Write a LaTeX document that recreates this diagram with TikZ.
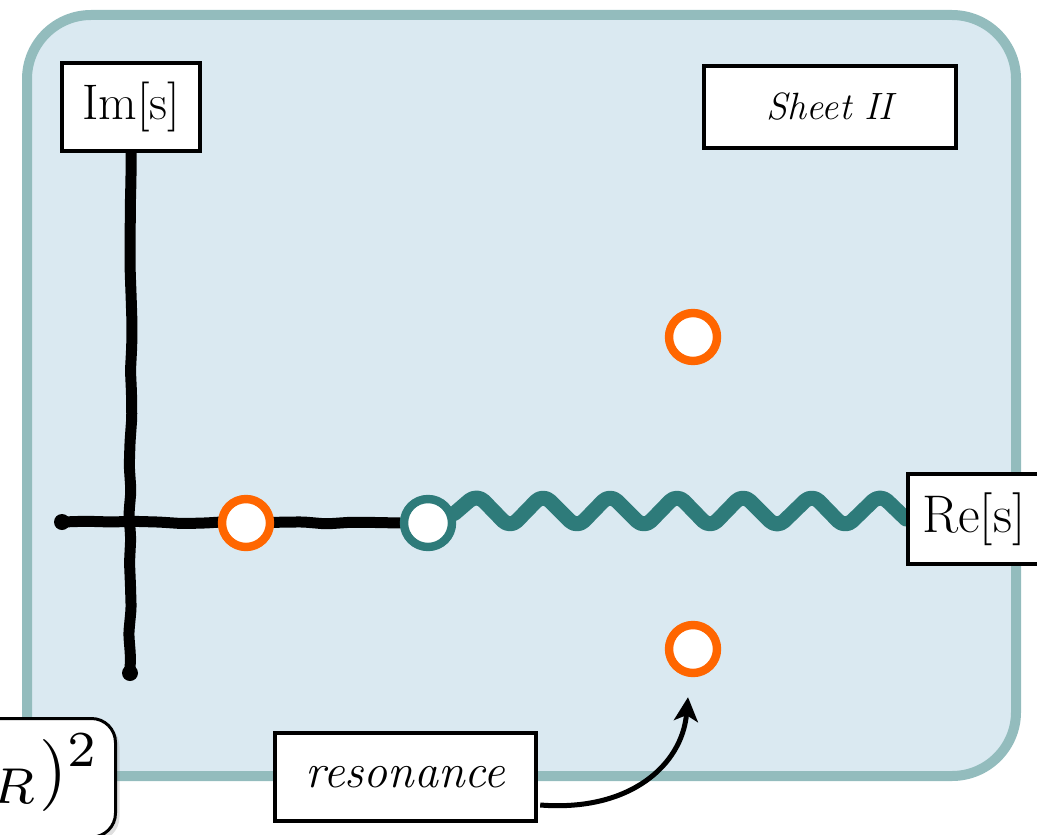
\documentclass[tikz,border=0pt]{standalone}
\usetikzlibrary{calc,arrows.meta,shadows,decorations.pathmorphing}

\definecolor{sheetfill}{RGB}{218,233,241}
\definecolor{sheetedge}{RGB}{147,188,189}
\definecolor{cutteal}{RGB}{46,123,122}
\definecolor{poleorange}{RGB}{255,102,0}

\pgfdeclarelayer{sheetlayer}
\pgfdeclarelayer{linelayer}
\pgfsetlayers{sheetlayer,linelayer,main}

\begin{document}
\begin{tikzpicture}[x=0.5pt,y=-0.5pt,
  labelbox/.style={draw, line width=2.2pt, fill=white, inner sep=0pt},
  pole/.style={circle, draw=poleorange, line width=4.2pt, fill=white,
               minimum size=24pt, inner sep=0pt},
  branchpt/.style={pole, draw=cutteal},
  axisline/.style={line width=5.5pt, line cap=round, rounded corners=2pt,
                   decorate, decoration={random steps, segment length=12pt, amplitude=0.8pt}},
  cutline/.style={cutteal, line width=7.5pt, line join=round, line cap=round,
                  rounded corners=5pt},
  bigfont/.style={font=\fontsize{25}{30}\selectfont}]
\pgfmathsetseed{11}
\useasboundingbox (0,0) rectangle (1037,834);

% second sheet of the complex s-plane
\begin{pgfonlayer}{sheetlayer}
  \draw[line width=5pt, draw=sheetedge, fill=sheetfill, rounded corners=32pt]
    (27,15) rectangle (1016,776);
\end{pgfonlayer}

% partly visible formula box in the lower left corner
\node[draw, line width=1.5pt, fill=white, rounded corners=12pt, anchor=north east,
      inner sep=8pt, text depth=14pt,
      drop shadow={opacity=0.25, shadow xshift=2pt, shadow yshift=-2pt}]
      (width) at (117,717) {\scalebox{3.6}{$(s-m_R)^2$}};

% axis labels and sheet label
\node[labelbox, bigfont, minimum width=69pt, minimum height=44pt] (ims) at (131,107) {Im[s]};
\node[labelbox, font=\fontsize{19}{23}\selectfont\itshape,
      minimum width=126pt, minimum height=41pt] (sheet) at (830,107) {Sheet II};
\node[labelbox, font=\fontsize{26.5}{30}\selectfont, anchor=west, minimum height=45pt, inner xsep=7pt]
      (res) at (906,519) {\makebox[66pt][l]{Re[s]}};
\node[labelbox, font=\fontsize{24}{28}\selectfont\itshape,
      minimum width=130.5pt, minimum height=44pt] (resonance) at (405.5,777) {resonance};

% poles and the branch point
\node[pole] (p0) at (246,523) {};
\node[pole] (p1) at (693,337) {};
\node[pole] (p2) at (693,649) {};
\node[branchpt] (cut) at (428,523) {};

\coordinate (hstart) at (62,522);
\coordinate (vend) at (130,673);

\begin{pgfonlayer}{linelayer}
  % axes
  \draw[axisline] (ims.south) -- (vend);
  \draw[axisline] (hstart) -- (cut.west);
  \fill (hstart) circle (4pt);
  \fill (vend) circle (4pt);
  % branch cut
  \draw[cutline] (cut.20) -- (477,494) -- (510,528) -- (543,494) -- (577,528)
    -- (610,494) -- (644,528) -- (677,494) -- (710,528) -- (743,494)
    -- (777,528) -- (812,494) -- (845,528) -- (880,494) -- (res.west);
\end{pgfonlayer}

% pointer to the resonance pole
\draw[line width=2.5pt, -{Stealth[length=12pt, width=12pt, inset=3pt]}]
  ($(resonance.east)+(2,28)$) .. controls (630,812) and (682,765) .. ($(p2.south)+(-5,20)$);
\end{tikzpicture}
\end{document}
